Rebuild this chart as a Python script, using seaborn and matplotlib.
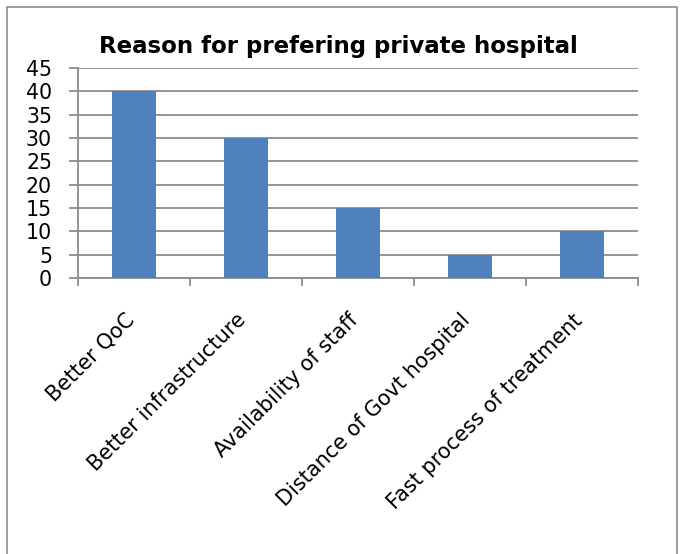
import matplotlib
matplotlib.use("Agg")
import matplotlib.pyplot as plt
import matplotlib.transforms as mtransforms
import seaborn as sns
import pandas as pd
import numpy as np
from matplotlib.patches import Rectangle

categories = ["Better QoC", "Better infrastructure", "Availability of staff",
              "Distance of Govt hospital", "Fast process of treatment"]
values = [40, 30, 15, 5, 10]
y_ticks = [0, 5, 10, 15, 20, 25, 30, 35, 40, 45]
title = "Reason for prefering private hospital"

sns.set_theme(style="white")
plt.rcParams['font.family'] = ['DejaVu Sans']
plt.rcParams['text.color'] = 'black'
plt.rcParams['xtick.labelcolor'] = 'black'
plt.rcParams['ytick.labelcolor'] = 'black'

df = pd.DataFrame({"reason": categories, "count": values})

W, H = 683, 554
fig = plt.figure(figsize=(W/100, H/100), dpi=100)
ax = fig.add_axes([78/W, 1-278/H, (638-78)/W, (278-68)/H])

sns.barplot(data=df, x="reason", y="count", color="#4F81BD", saturation=1,
            width=0.4, ax=ax, zorder=3, edgecolor="none", linewidth=0)

ax.set_xlim(-0.5, 4.5)
ax.set_ylim(0, 45)
ax.set_yticks(y_ticks)
ax.set_yticklabels([str(v) for v in y_ticks], fontsize=14, color="black")
ax.yaxis.grid(True, color="#8c8c8c", linewidth=1.3, zorder=0)
ax.set_axisbelow(True)
ax.set_xlabel("")
ax.set_ylabel("")

ax.set_xticks(range(len(categories)))
ax.set_xticklabels(categories, rotation=45, ha="right", va="top",
                   rotation_mode="anchor", fontsize=14, color="black")
ax.tick_params(axis="x", which="major", length=0, pad=22)
ax.set_xticks(np.arange(-0.5, len(categories), 1.0), minor=True)
ax.tick_params(axis="x", which="minor", length=6, width=1.3, color="#8c8c8c", direction="out", bottom=True)
ypad = 12
ax.tick_params(axis="y", length=6.5, width=1.3, color="#8c8c8c", direction="out", left=True, pad=ypad)

for s in ["top", "right"]:
    ax.spines[s].set_visible(False)
for s in ["left", "bottom"]:
    ax.spines[s].set_color("#8c8c8c")
    ax.spines[s].set_linewidth(1.3)

t = fig.text((97 + 580) / 2 / W, 1 - 46/H, title, ha="center", va="center",
             fontsize=16, fontweight="bold", color="black")

fig.patches.append(Rectangle((7/W, -0.05), (677-7)/W, 1.05 - 7/H,
                             transform=fig.transFigure, fill=False,
                             edgecolor="#8c8c8c", linewidth=1.2))

# fit font sizes to the reference's measured text widths
r = fig.canvas.get_renderer()
for _ in range(3):
    fig.canvas.draw()
    w = t.get_window_extent(r).width
    t.set_fontsize(t.get_fontsize() * 483 / w)
    yl = ax.get_yticklabels()[-1]
    wy = yl.get_window_extent(r).width
    ys = yl.get_fontsize() * 26 / wy
    for lab in ax.get_yticklabels():
        lab.set_fontsize(ys)
    xls = ax.get_xticklabels()
    wx = xls[0].get_window_extent(r).width + xls[-1].get_window_extent(r).width
    xs = xls[0].get_fontsize() * (93 + 205) / wx
    for lab in xls:
        lab.set_fontsize(xs)

# position y labels: right edge of labels at x=52
fig.canvas.draw()
x1 = ax.get_yticklabels()[-1].get_window_extent(r).x1
ypad = ypad + (x1 - 52) * 72 / 100
ax.tick_params(axis="y", pad=ypad)
for lab in ax.get_yticklabels():
    lab.set_fontsize(ys)

# position x labels: top-right of first label near (138, 310)
fig.canvas.draw()
bb = ax.get_xticklabels()[0].get_window_extent(r)
dx = 138 - bb.x1
dy = (H - 310) - bb.y1
offset = mtransforms.ScaledTranslation(dx/100, dy/100, fig.dpi_scale_trans)
for lab in ax.get_xticklabels():
    lab.set_transform(lab.get_transform() + offset)

fig.savefig("out.png", dpi=100)
